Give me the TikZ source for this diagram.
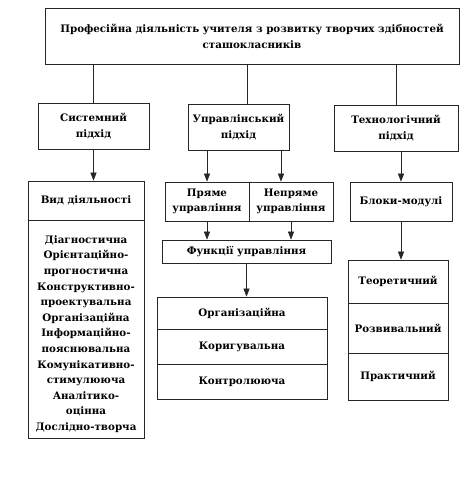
\documentclass[tikz,border=0pt]{standalone}
\usepackage{fontspec}
\setmainfont{DejaVu Serif}
\usetikzlibrary{arrows.meta,calc}
\begin{document}
\begin{tikzpicture}[x=1pt,y=-1pt,
  box/.style={draw=black!85,line width=0.7pt,inner sep=0pt,align=center,font=\bfseries\fontsize{10.3}{15.6}\selectfont},
  txt/.style={inner sep=0pt,align=center,font=\bfseries\fontsize{10.3}{15.6}\selectfont},
  arr/.style={draw=black!85,line width=0.6pt,-{Triangle[length=8pt,width=6pt]}},
  ln/.style={draw=black!85,line width=0.6pt}]
\useasboundingbox (0,0) rectangle (475,499);
\fill[white] (0,0) rectangle (475,499);
\node[box,minimum width=414,minimum height=56,font=\bfseries\fontsize{10.3}{16}\selectfont] (top) at (252,36)
  {Професійна діяльність учителя з розвитку творчих здібностей\\сташокласників};
\node[box,minimum width=111,minimum height=46,font=\bfseries\fontsize{10.3}{16}\selectfont] (sys) at (93.5,126) {Системний\\підхід};
\node[box,minimum width=101,minimum height=46,font=\bfseries\fontsize{10.3}{16}\selectfont] (upr) at (238.5,127) {Управлінський\\підхід};
\node[box,minimum width=124,minimum height=46,font=\bfseries\fontsize{10.3}{16}\selectfont] (tech) at (396,128) {Технологічний\\підхід};
\node[box,minimum width=116,minimum height=39] (vidh) at (86,200.5) {Вид діяльності};
\node[box,minimum width=116,minimum height=218] (vidb) at (86,329) {};
\node[txt] (vidt) at (86,334)
  {Діагностична\\Орієнтаційно-\\прогностична\\Конструктивно-\\проектувальна\\Організаційна\\Інформаційно-\\пояснювальна\\Комунікативно-\\стимулююча\\Аналітико-\\оцінна\\Дослідно-творча};
\node[box,minimum width=84,minimum height=39] (pr) at (207,201.5) {Пряме\\управління};
\node[box,minimum width=84,minimum height=39] (nep) at (291,201.5) {Непряме\\управління};
\node[box,minimum width=169,minimum height=23] (funk) at (246.5,251.5) {Функції управління};
\node[box,minimum width=170,minimum height=32] (org) at (242,313) {Організаційна};
\node[box,minimum width=170,minimum height=35] (kor) at (242,346.5) {Коригувальна};
\node[box,minimum width=170,minimum height=35] (kon) at (242,381.5) {\raisebox{-3pt}{Контролююча}};
\node[box,minimum width=102,minimum height=39] (blk) at (401,201.5) {Блоки-модулі};
\node[box,minimum width=100,minimum height=43] (teor) at (398,281.5) {\raisebox{-4pt}{Теоретичний}};
\node[box,minimum width=100,minimum height=50] (rozv) at (398,328) {Розвивальний};
\node[box,minimum width=100,minimum height=47] (prak) at (398,376.5) {Практичний};
\coordinate (c1) at ([xshift=8.5pt]upr.north);
\coordinate (c2) at ([xshift=-10pt]nep.north);
\draw[ln] (sys.north |- top.south) -- (sys.north);
\draw[ln] (c1 |- top.south) -- (c1);
\draw[ln] (tech.north |- top.south) -- (tech.north);
\draw[arr] (sys.south) -- (sys.south |- vidh.north);
\draw[arr] (pr.north |- upr.south) -- (pr.north);
\draw[arr] (c2 |- upr.south) -- (c2);
\draw[arr] (pr.south) -- (pr.south |- funk.north);
\draw[arr] (nep.south) -- (nep.south |- funk.north);
\draw[arr] (funk.south) -- (funk.south |- org.north);
\draw[arr] (blk.north |- tech.south) -- (blk.north);
\draw[arr] (blk.south) -- (blk.south |- teor.north);
\end{tikzpicture}
\end{document}
